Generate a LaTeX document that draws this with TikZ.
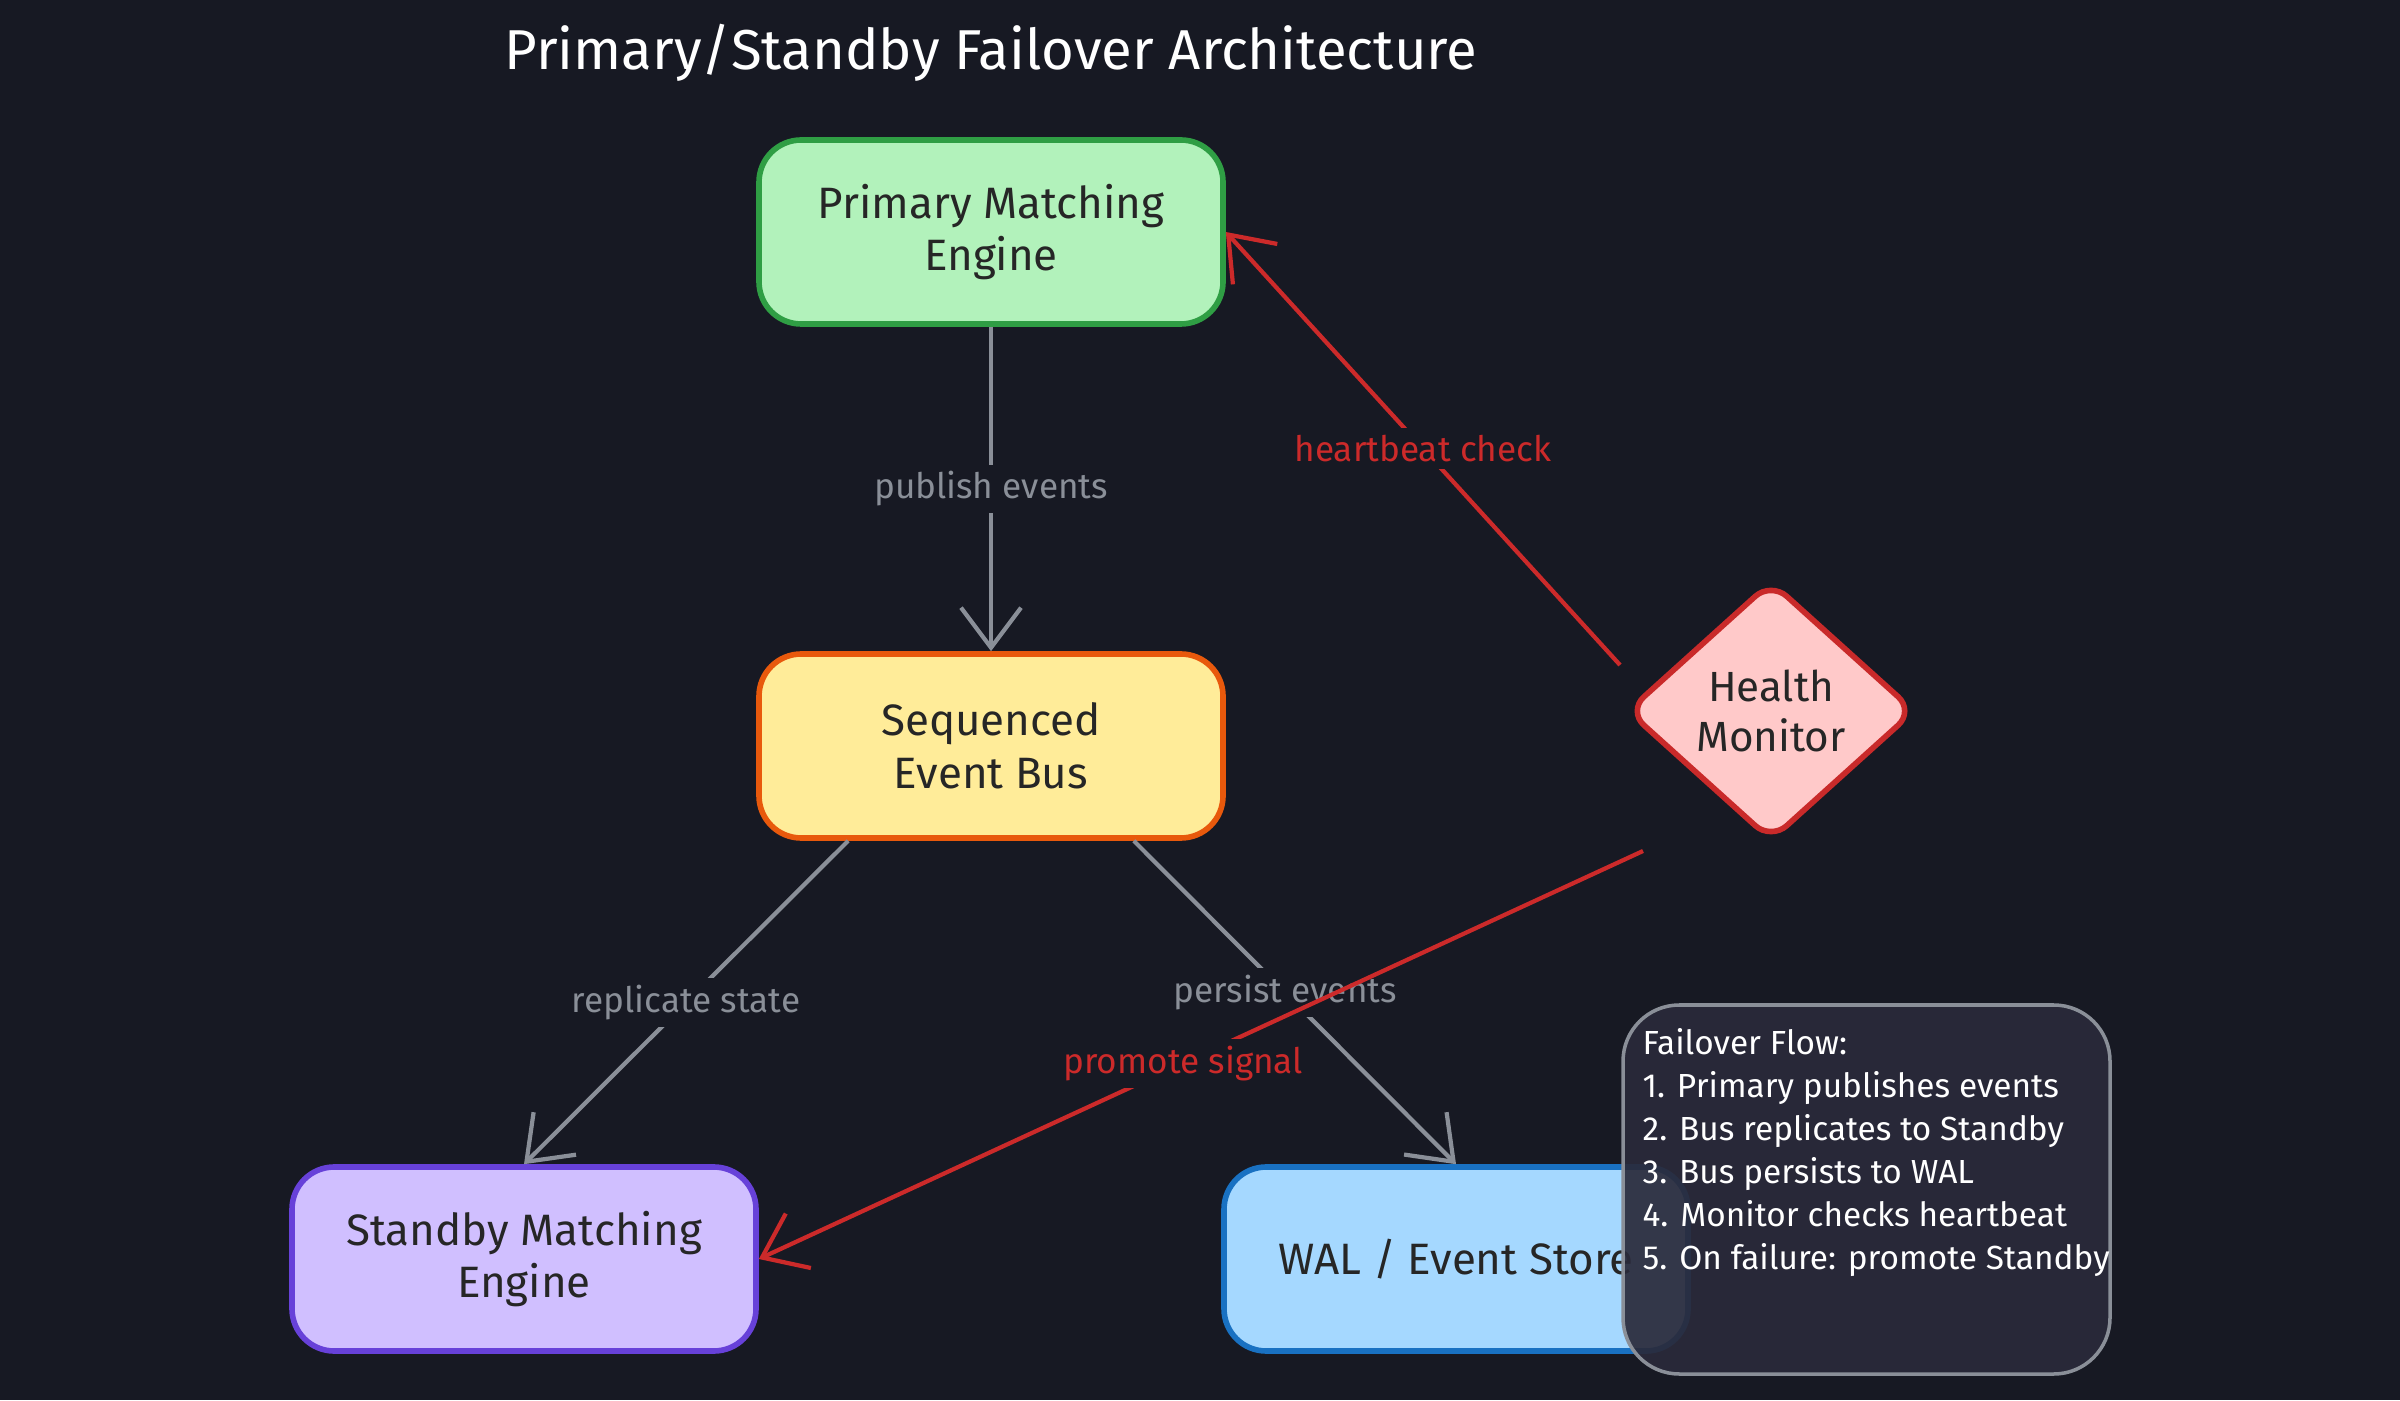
\documentclass[tikz,border=0pt]{standalone}
\usepackage{fontspec}
\setmainfont{Fira Sans}
\usetikzlibrary{arrows.meta, positioning, shapes.geometric}
\definecolor{bgcol}{HTML}{171923}
\definecolor{edgegray}{HTML}{8A8F98}
\definecolor{alertred}{HTML}{CC2A2A}
\definecolor{notefill}{HTML}{2A2A3A}
\definecolor{primfill}{HTML}{B2F2BB}\definecolor{primdraw}{HTML}{2F9E44}
\definecolor{busfill}{HTML}{FFEC99}\definecolor{busdraw}{HTML}{E8590C}
\definecolor{stbyfill}{HTML}{D0BFFF}\definecolor{stbydraw}{HTML}{6741D9}
\definecolor{walfill}{HTML}{A5D8FF}\definecolor{waldraw}{HTML}{1971C2}
\definecolor{hlthfill}{HTML}{FFC9C9}\definecolor{hlthdraw}{HTML}{C92A2A}
\tikzset{
    box/.style={draw, line width=1.6pt, rounded corners=12pt, minimum width=4.64cm,
        minimum height=1.84cm, align=center, text=black!85, font=\fontsize{12.5}{15}\selectfont},
    flow/.style={-{Straight Barb[length=4mm,width=6mm]}, line width=1.2pt, edgegray},
    alert/.style={-{Straight Barb[length=4mm,width=6mm]}, line width=1.2pt, alertred},
    lbl/.style={fill=bgcol, inner sep=2pt, font=\fontsize{10}{12}\selectfont}
}
\begin{document}
\begin{tikzpicture}
    \fill[bgcol] (0,0) rectangle (24,14);
    \useasboundingbox (0,0) rectangle (24,14);

    % Title
    \node[text=white, font=\fontsize{16}{20}\selectfont] (title) at (9.91,13.47) {Primary/Standby Failover Architecture};

    % Nodes
    \node[box, fill=primfill, draw=primdraw] (primary) at (9.91,11.68) {Primary Matching\\Engine};
    \node[box, fill=busfill, draw=busdraw] (bus) at (9.91,6.54) {Sequenced\\Event Bus};
    \node[box, fill=stbyfill, draw=stbydraw] (standby) at (5.24,1.41) {Standby Matching\\Engine};
    \node[box, fill=walfill, draw=waldraw] (wal) at (14.56,1.41) {WAL / Event Store};
    \node[diamond, draw=hlthdraw, fill=hlthfill, line width=1.6pt, rounded corners=6pt,
        minimum width=2.88cm, minimum height=2.6cm, inner sep=0pt, align=center,
        text=black!85, font=\fontsize{12}{14}\selectfont] (health) at (17.71,6.89) {Health\\Monitor};

    % Edges
    \coordinate (bsw) at ([xshift=0.92cm]bus.south west);
    \coordinate (bse) at ([xshift=-0.92cm]bus.south east);
    \coordinate (hn) at (16.20,7.35);
    \coordinate (hs) at (16.43,5.49);
    \draw[flow] (primary) -- node[lbl, text=edgegray] {publish events} (bus);
    \draw[flow] (bsw) -- node[lbl, text=edgegray] {replicate state} (standby.north);
    \draw[flow] (bse) -- node[lbl, text=edgegray, pos=0.47] {persist events} (wal.north);
    \draw[alert] (hn) -- node[lbl, text=alertred, pos=0.5] {heartbeat check} (primary.east);
    \draw[alert] (hs) -- node[lbl, text=alertred, pos=0.52] {promote signal} (standby.east);

    % Note
    \fill[notefill, fill opacity=0.92] (16.23,3.95) [rounded corners=16pt] rectangle (21.10,0.26);
    \draw[edgegray, line width=1pt, rounded corners=16pt] (16.23,3.95) rectangle (21.10,0.26);
    \node[anchor=north west, align=left, text=white!90, inner sep=0pt,
        font=\fontsize{9.5}{12.2}\selectfont] (note) at (16.42,3.72)
        {Failover Flow:\\1. Primary publishes events\\2. Bus replicates to Standby\\3. Bus persists to WAL\\4. Monitor checks heartbeat\\5. On failure: promote Standby};
\end{tikzpicture}
\end{document}
